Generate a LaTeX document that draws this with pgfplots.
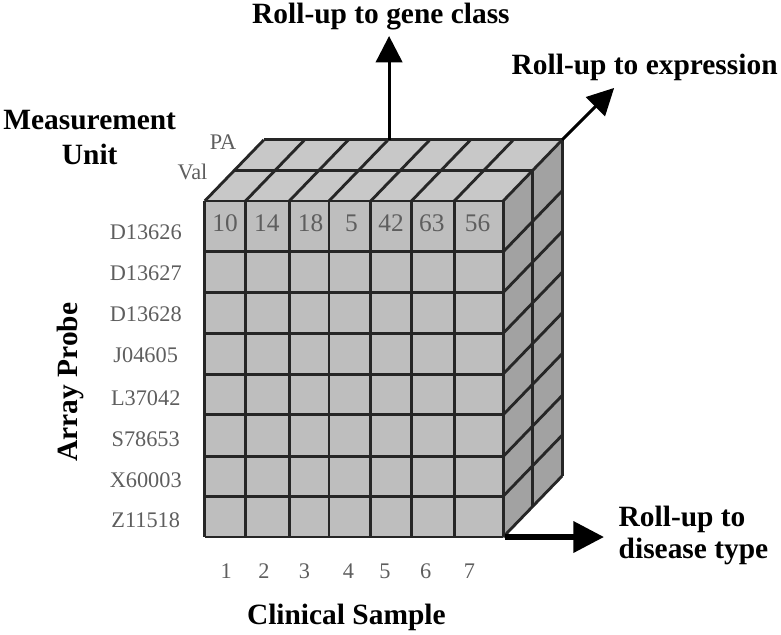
\documentclass[border=0pt]{standalone}
\usepackage{fontspec}
\setmainfont{Liberation Serif}
\usepackage{pgfplots}
\pgfplotsset{compat=1.18}
\usetikzlibrary{arrows.meta}

\definecolor{frontgray}{HTML}{BEBEBE}
\definecolor{topgray}{HTML}{C8C8C8}
\definecolor{sidegray}{HTML}{A2A2A2}
\definecolor{edge}{HTML}{262626}
\definecolor{labgray}{HTML}{5E5E5E}

\begin{document}
\begin{tikzpicture}[
    grid line/.style={draw=edge, line width=2.8bp, line join=round},
    bold lab/.style={font=\bfseries\fontsize{29}{31}\selectfont, text=black},
]
\begin{axis}[
    scale only axis, width=781bp, height=635bp,
    xmin=0, xmax=781, ymin=0, ymax=635, y dir=reverse,
    hide axis, clip=false,
]
% faces
\addplot[fill=frontgray, draw=none] coordinates {(212,207) (505,207) (505,537) (212,537)} -- cycle;
\addplot[fill=topgray, draw=none] coordinates {(212,207) (505,207) (563,147) (270,147)} -- cycle;
\addplot[fill=sidegray, draw=none] coordinates {(505,207) (563,147) (563,477) (505,537)} -- cycle;

% front face: column lines
\addplot[grid line] coordinates {(212,207) (212,537)};
\addplot[grid line] coordinates {(252,207) (252,537)};
\addplot[grid line] coordinates {(295,207) (295,537)};
\addplot[grid line] coordinates {(334,207) (334,537)};
\addplot[grid line] coordinates {(375,207) (375,537)};
\addplot[grid line] coordinates {(415,207) (415,537)};
\addplot[grid line] coordinates {(457,207) (457,537)};
\addplot[grid line] coordinates {(505,207) (505,537)};
% front face: row lines
\addplot[grid line] coordinates {(212,207) (505,207)};
\addplot[grid line] coordinates {(212,257) (505,257)};
\addplot[grid line] coordinates {(212,297) (505,297)};
\addplot[grid line] coordinates {(212,337) (505,337)};
\addplot[grid line] coordinates {(212,377) (505,377)};
\addplot[grid line] coordinates {(212,417) (505,417)};
\addplot[grid line] coordinates {(212,458) (505,458)};
\addplot[grid line] coordinates {(212,497) (505,497)};
\addplot[grid line] coordinates {(212,537) (505,537)};

% top face
\addplot[grid line] coordinates {(212,207) (270,147)};
\addplot[grid line] coordinates {(252,207) (310,147)};
\addplot[grid line] coordinates {(295,207) (353,147)};
\addplot[grid line] coordinates {(334,207) (392,147)};
\addplot[grid line] coordinates {(375,207) (433,147)};
\addplot[grid line] coordinates {(415,207) (473,147)};
\addplot[grid line] coordinates {(457,207) (515,147)};
\addplot[grid line] coordinates {(505,207) (563,147)};
\addplot[grid line] coordinates {(241,177) (534,177)};
\addplot[grid line] coordinates {(270,147) (563,147)};

% right face
\addplot[grid line] coordinates {(505,257) (563,197)};
\addplot[grid line] coordinates {(505,297) (563,237)};
\addplot[grid line] coordinates {(505,337) (563,277)};
\addplot[grid line] coordinates {(505,377) (563,317)};
\addplot[grid line] coordinates {(505,417) (563,357)};
\addplot[grid line] coordinates {(505,458) (563,398)};
\addplot[grid line] coordinates {(505,497) (563,437)};
\addplot[grid line] coordinates {(505,537) (563,477)};
\addplot[grid line] coordinates {(534,177) (534,507)};
\addplot[grid line] coordinates {(563,147) (563,477)};

% roll-up arrows
\addplot[black, line width=3bp, -{Triangle[length=26bp, width=26bp]}] coordinates {(393,147) (393,45)};
\addplot[black, line width=3bp, -{Triangle[length=26bp, width=26bp]}] coordinates {(563,147) (614,96)};
\addplot[black, line width=5bp, -{Triangle[length=30bp, width=30bp]}] coordinates {(507,537) (604,537)};

% measurement values, first row
\begin{scope}[every node/.style={font=\fontsize{25}{25}\selectfont, text=labgray, anchor=base}]
\node at (axis cs:232,237) {10};
\node at (axis cs:273,237) {14};
\node at (axis cs:316,237) {18};
\node at (axis cs:356,237) {5};
\node at (axis cs:395,237) {42};
\node at (axis cs:435,237) {63};
\node at (axis cs:480,237) {56};
\end{scope}

% array probe labels
\begin{scope}[every node/.style={font=\fontsize{22}{22}\selectfont, text=labgray, anchor=base}]
\node at (axis cs:154,245) {D13626};
\node at (axis cs:154,285) {D13627};
\node at (axis cs:154,325) {D13628};
\node at (axis cs:154,366) {J04605};
\node at (axis cs:154,408) {L37042};
\node at (axis cs:154,448) {S78653};
\node at (axis cs:154,488) {X60003};
\node at (axis cs:154,528) {Z11518};
\node at (axis cs:230,156) {PA};
\node at (axis cs:200,186) {Val};
\end{scope}

% clinical sample labels
\begin{scope}[every node/.style={font=\fontsize{22}{22}\selectfont, text=labgray, anchor=base}]
\node at (axis cs:233,578) {1};
\node at (axis cs:270,578) {2};
\node at (axis cs:310,578) {3};
\node at (axis cs:353,578) {4};
\node at (axis cs:389,578) {5};
\node at (axis cs:429,578) {6};
\node at (axis cs:472,578) {7};
\end{scope}

% titles
\node[bold lab, anchor=base] at (axis cs:385,33) {Roll-up to gene class};
\node[bold lab, anchor=base] at (axis cs:644,83) {Roll-up to expression};
\node[bold lab, anchor=base] at (axis cs:99,137) {Measurement};
\node[bold lab, anchor=base] at (axis cs:99,171) {Unit};
\node[bold lab, anchor=base west] at (axis cs:615,527) {Roll-up to};
\node[bold lab, anchor=base west] at (axis cs:615,558) {disease type};
\node[bold lab, anchor=base] at (axis cs:351,623) {Clinical Sample};
\node[bold lab, rotate=90] at (axis cs:80,385) {Array Probe};
\end{axis}
\end{tikzpicture}
\end{document}
